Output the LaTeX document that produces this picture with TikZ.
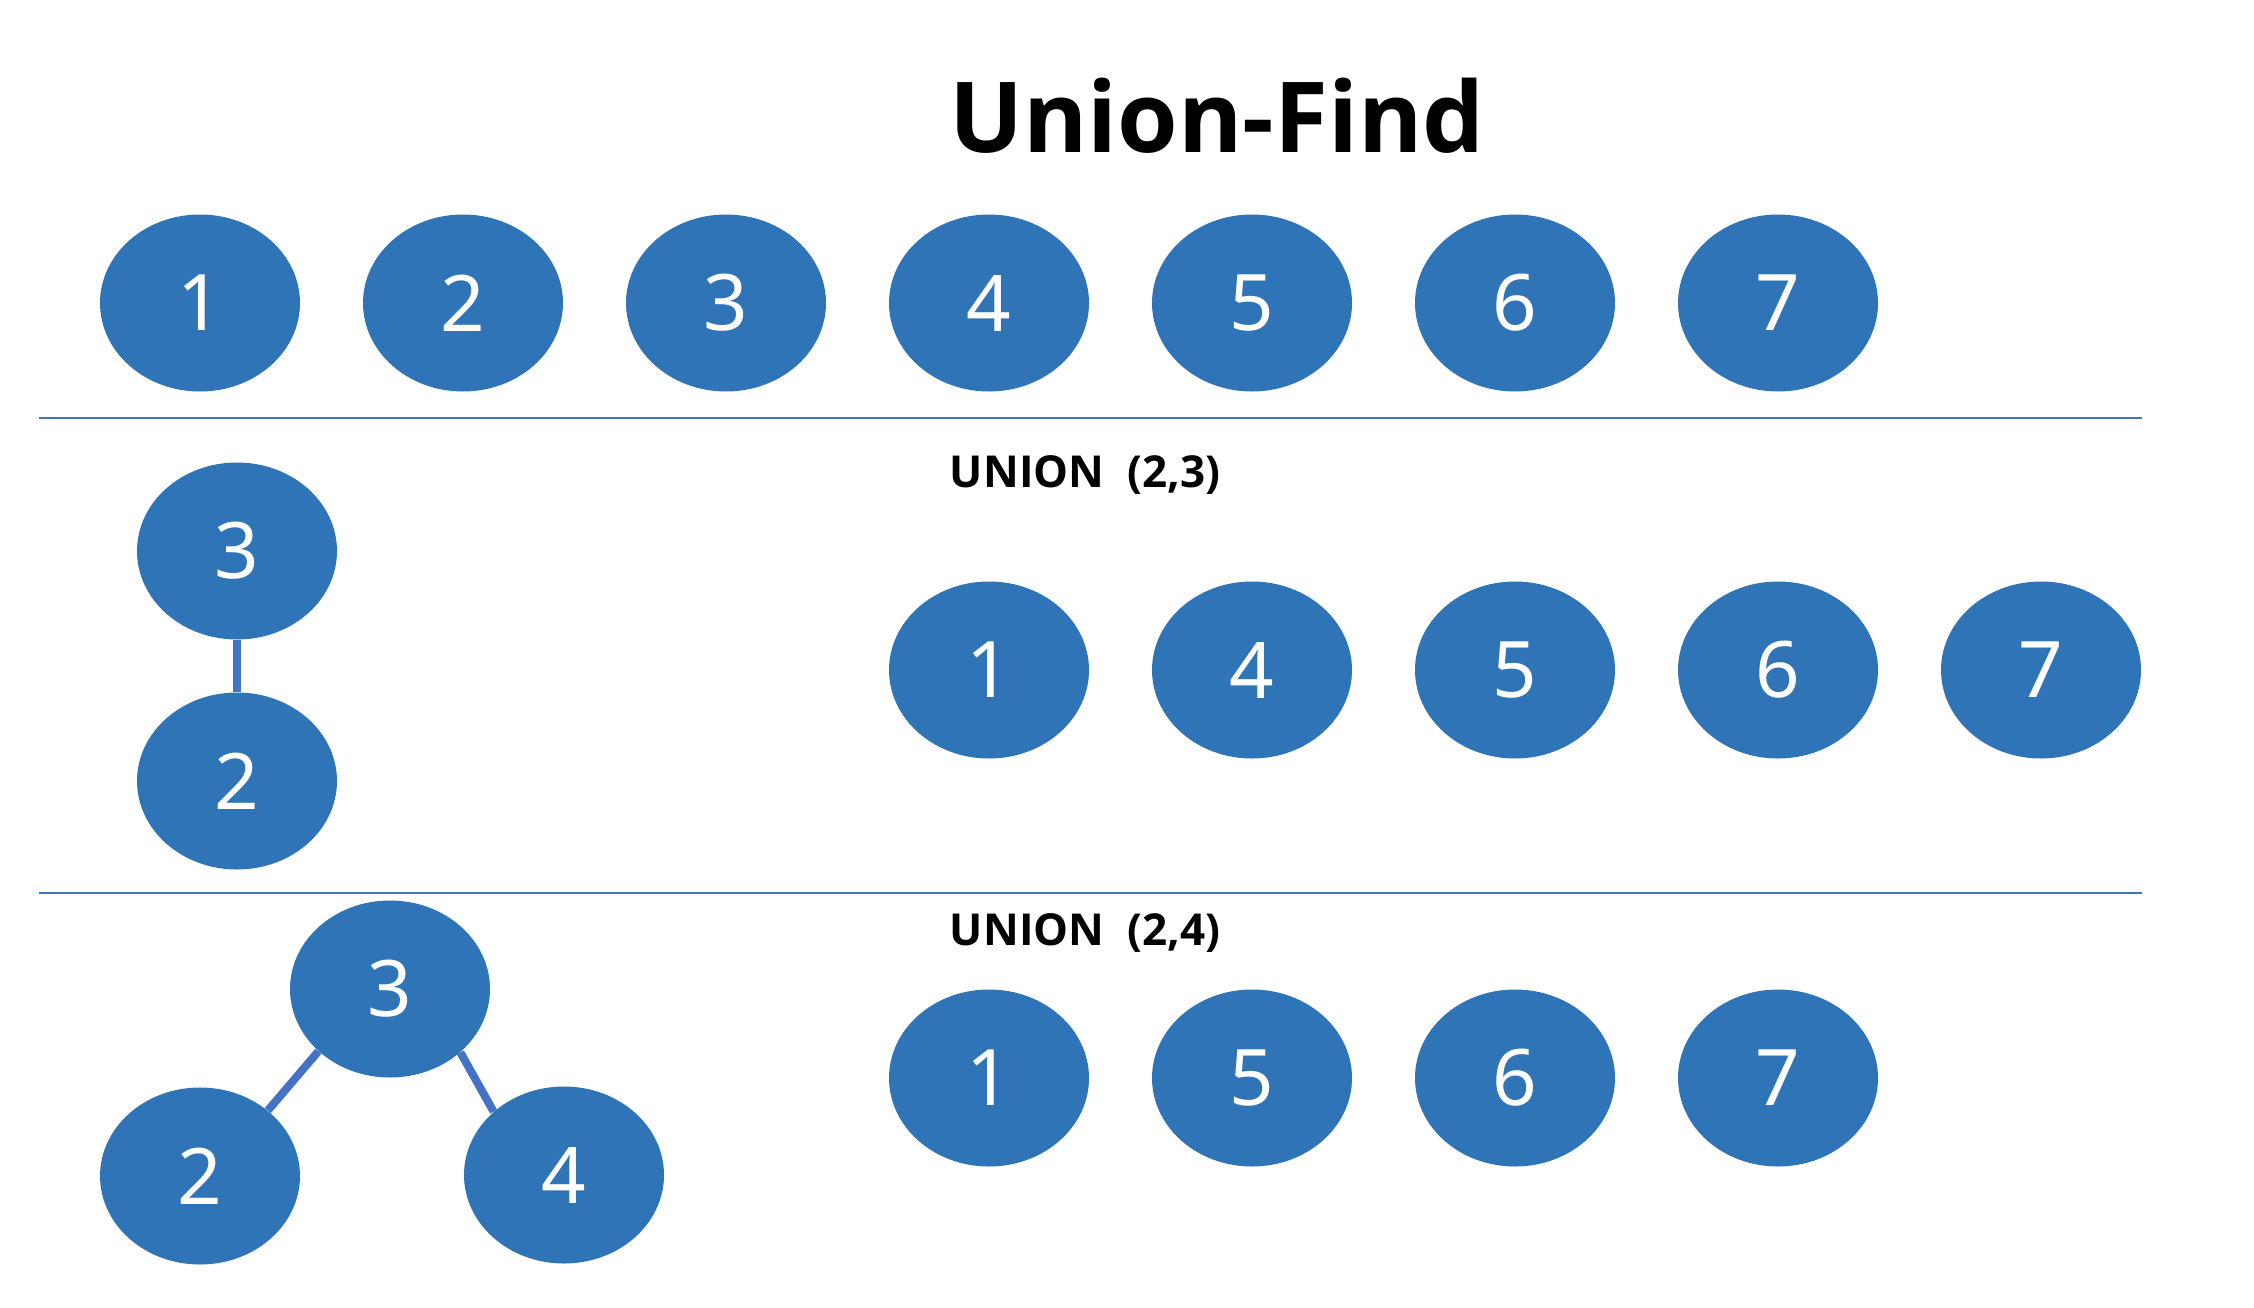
\documentclass[tikz,border=0pt]{standalone}
\usepackage{fontspec}
\setmainfont{Noto Sans}
\newfontfamily\headfont{Open Sans}
\usetikzlibrary{shapes.geometric}
\definecolor{nodeblue}{RGB}{46,116,182}
\definecolor{linkblue}{RGB}{68,114,196}

\begin{document}
\begin{tikzpicture}[x=0.5pt,y=-0.5pt,
  elem/.style={ellipse,fill=nodeblue,draw=none,inner sep=0pt,
    minimum width=100pt,minimum height=88.5pt,text=white,
    font=\fontsize{39}{39}\selectfont},
  link/.style={draw=linkblue,line width=4pt},
  sep/.style={draw=linkblue,line width=1pt},
  step label/.style={anchor=base,font=\headfont\fontsize{22}{22}\selectfont\bfseries}]
\useasboundingbox (0,0) rectangle (2254,1307);
\node[anchor=base,font=\headfont\fontsize{49}{49}\selectfont\bfseries] (title) at (1217,152) {Union-Find};
% initial sets
\node[elem] (a1) at (200,303) {1};
\node[elem] (a2) at (463,303) {2};
\node[elem] (a3) at (726,303) {3};
\node[elem] (a4) at (989,303) {4};
\node[elem] (a5) at (1252,303) {5};
\node[elem] (a6) at (1515,303) {6};
\node[elem] (a7) at (1778,303) {7};
\coordinate (s1l) at (39,418);
\coordinate (s1r) at (2142,418);
\draw[sep] (s1l) -- (s1r);
% after union (2,3)
\node[step label] (u1) at (1085,487) {UNION\ \ (2,3)};
\node[elem] (b3) at (237,551) {3};
\node[elem] (b2) at (237,781) {2};
\draw[link] (b3.south) -- (b2.north);
\node[elem] (b1) at (989,670) {1};
\node[elem] (b4) at (1252,670) {4};
\node[elem] (b5) at (1515,670) {5};
\node[elem] (b6) at (1778,670) {6};
\node[elem] (b7) at (2041,670) {7};
\coordinate (s2l) at (39,893);
\coordinate (s2r) at (2142,893);
\draw[sep] (s2l) -- (s2r);
% after union (2,4)
\node[step label] (u2) at (1085,945) {UNION\ \ (2,4)};
\node[elem] (c3) at (390,989) {3};
\node[elem] (c2) at (200,1176) {2};
\node[elem] (c4) at (564,1175) {4};
\draw[link] (c3.-139) -- (c2.44);
\draw[link] (c3.-42) -- (c4.138);
\node[elem] (c1) at (989,1078) {1};
\node[elem] (c5) at (1252,1078) {5};
\node[elem] (c6) at (1515,1078) {6};
\node[elem] (c7) at (1778,1078) {7};
\end{tikzpicture}
\end{document}
